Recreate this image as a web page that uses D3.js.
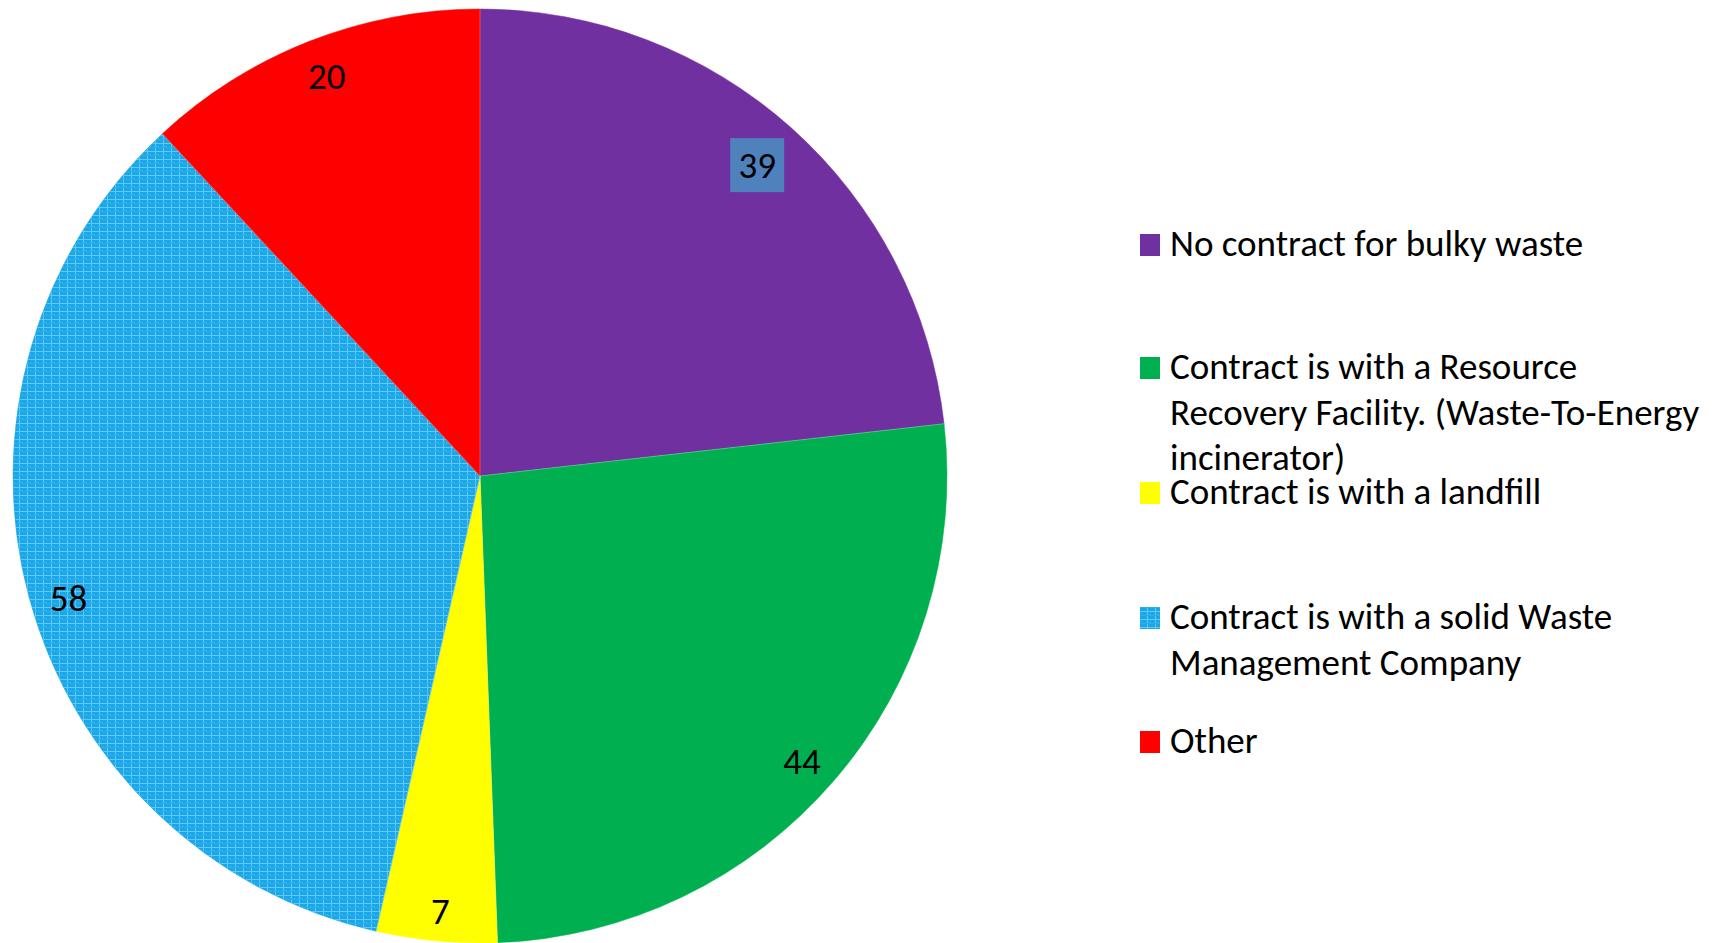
<!DOCTYPE html>
<html><head><meta charset="utf-8">
<script src="https://cdn.jsdelivr.net/npm/d3@7"></script>
<style>html,body{margin:0;padding:0;background:#fff;}svg{display:block;}</style>
</head><body>
<svg id="chart" width="1724" height="943"></svg>
<script>
const categories = [
  "No contract for bulky waste",
  "Contract is with a Resource Recovery Facility. (Waste-To-Energy incinerator)",
  "Contract is with a landfill",
  "Contract is with a solid Waste Management Company",
  "Other"
];
const values = [39, 44, 7, 58, 20];
const colors = ["#7030A0", "#00B050", "#FFFF00", "url(#bluePat)", "#FF0000"];
const legendLines = [
  ["No contract for bulky waste"],
  ["Contract is with a Resource", "Recovery Facility. (Waste-To-Energy", "incinerator)"],
  ["Contract is with a landfill"],
  ["Contract is with a solid Waste", "Management Company"],
  ["Other"]
];
const legendBaselines = [256, 379, 504, 629, 753];

const svg = d3.select("#chart");
const font = "Carlito, Calibri, Lato, 'Open Sans', sans-serif";

// pattern for the blue slice
const defs = svg.append("defs");
const pat = defs.append("pattern").attr("id", "bluePat")
  .attr("patternUnits", "userSpaceOnUse").attr("width", 8).attr("height", 8);
pat.append("rect").attr("width", 8).attr("height", 8).attr("fill", "#19A7E9");
pat.append("rect").attr("x", 0).attr("y", 3).attr("width", 8).attr("height", 1).attr("fill", "#62C9F4");
pat.append("rect").attr("x", 3).attr("y", 0).attr("width", 1).attr("height", 8).attr("fill", "#62C9F4");
pat.append("rect").attr("x", 6).attr("y", 6).attr("width", 1).attr("height", 1).attr("fill", "#3DB8F0");
pat.append("rect").attr("x", 0).attr("y", 7).attr("width", 8).attr("height", 1).attr("fill", "#2AAFEC");

const cx = 480, cy = 476, r = 467;
const pie = d3.pie().sort(null).value(d => d)(values);
const arc = d3.arc().innerRadius(0).outerRadius(r);
const labelArc = d3.arc().innerRadius(r * 0.91).outerRadius(r * 0.91);

const g = svg.append("g").attr("transform", `translate(${cx},${cy})`);
g.selectAll("path.slice").data(pie).join("path")
  .attr("class", "slice")
  .attr("d", arc)
  .attr("fill", (d, i) => colors[i])
  .attr("stroke", (d, i) => i === 3 ? "#19A7E9" : colors[i])
  .attr("stroke-width", 0.5);

g.selectAll("line.sep").data(pie).join("line")
  .attr("class", "sep")
  .attr("x1", 0).attr("y1", 0)
  .attr("x2", d => r * Math.sin(d.startAngle))
  .attr("y2", d => -r * Math.cos(d.startAngle))
  .attr("stroke", "#ffffff").attr("stroke-opacity", 0.25).attr("stroke-width", 1);

const labelOffsets = [[-6, 6], [0, 8], [0, 12], [-1, 12], [2, -4]];
const labels = g.selectAll("g.lbl").data(pie).join("g").attr("class", "lbl")
  .attr("transform", (d, i) => {
    const c = labelArc.centroid(d);
    return `translate(${c[0] + labelOffsets[i][0]},${c[1] + labelOffsets[i][1]})`;
  });
labels.filter((d, i) => i === 0).append("rect")
  .attr("x", -27).attr("y", -27).attr("width", 54).attr("height", 54)
  .attr("fill", "#4F81BD");
labels.append("text")
  .attr("text-anchor", "middle").attr("dy", "0.35em")
  .attr("font-family", font).attr("font-size", 37).attr("fill", "#000")
  .text(d => d.data);

// legend
const leg = svg.append("g");
legendLines.forEach((lines, i) => {
  const b = legendBaselines[i];
  leg.append("rect").attr("x", 1140).attr("y", b - 22).attr("width", 20).attr("height", 22)
    .attr("fill", colors[i]);
  lines.forEach((t, j) => {
    leg.append("text").attr("x", 1170).attr("y", b + j * 45.5)
      .attr("font-family", font).attr("font-size", 37).attr("fill", "#000")
      .text(t);
  });
});
</script>
</body></html>
